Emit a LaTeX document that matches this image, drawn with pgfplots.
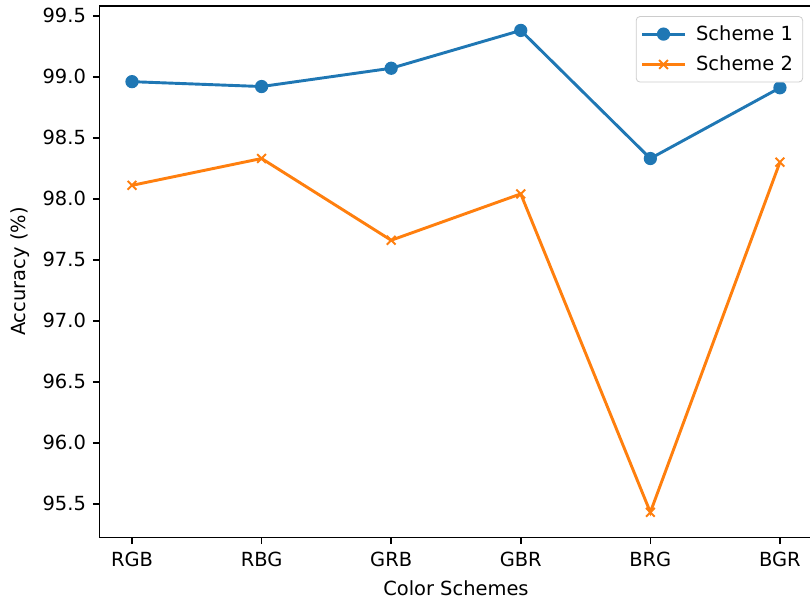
\documentclass[border=0pt]{standalone}
\usepackage{pgfplots}
\pgfplotsset{compat=1.18}
\usepackage{fontspec}
\setmainfont{DejaVu Sans}
\usetikzlibrary{calc}
\definecolor{c0}{HTML}{1F77B4}
\definecolor{c1}{HTML}{FF7F0E}
\begin{document}
\begin{tikzpicture}
\begin{axis}[
  name=ax,
  scale only axis,
  width=366.4pt, height=273.1pt,
  xmin=-0.25, xmax=5.25,
  ymin=95.225, ymax=99.58,
  xtick={0,1,2,3,4,5},
  xticklabels={RGB,RBG,GRB,GBR,BRG,BGR},
  ytick={95.5,96,96.5,97,97.5,98,98.5,99,99.5},
  yticklabel style={/pgf/number format/.cd,fixed,fixed zerofill,precision=1},
  /pgf/number format/assume math mode=true,
  tick align=outside,
  tick pos=left,
  major tick length=3.5pt,
  every tick/.style={line width=0.8pt, black},
  axis line style={line width=0.8pt},
  tick label style={font=\fontsize{10}{12}\selectfont},
  xticklabel style={yshift=-0.5pt},
  xlabel={Color Schemes},
  ylabel={Accuracy (\%)},
  label style={font=\fontsize{10}{12}\selectfont},
  xlabel style={at={(axis description cs:0.5,-0.095)}, anchor=center},
  ylabel style={at={(axis description cs:-0.112,0.5)}, anchor=center, rotate=0},
  legend style={at={(0.987,0.981)}, anchor=north east, draw=black!20, rounded corners=2pt,
    font=\fontsize{10}{12}\selectfont, inner xsep=2.5pt, inner ysep=3.5pt, row sep=4.5pt,
    nodes={inner xsep=2.5pt, inner ysep=1pt}},
  legend cell align=left,
  legend image code/.code={\draw[mark repeat=2,mark phase=2] plot coordinates {(0cm,0cm) (0.38cm,0cm) (0.76cm,0cm)}; \path (0.76cm+2.7pt,0);},
]
\addplot[color=c0, line width=1.5pt, mark=*, mark size=3pt, mark options={solid, fill=c0, draw=c0, line width=0.8pt}]
  coordinates {(0,98.96) (1,98.92) (2,99.07) (3,99.38) (4,98.33) (5,98.91)};
\addlegendentry{Scheme 1}
\addplot[color=c1, line width=1.5pt, mark=x, mark size=3.2pt, mark options={solid, line width=1pt}]
  coordinates {(0,98.11) (1,98.33) (2,97.66) (3,98.04) (4,95.43) (5,98.30)};
\addlegendentry{Scheme 2}
\end{axis}
\pgfresetboundingbox
\useasboundingbox ($(ax.south west)+(-51.2pt,-34.3pt)$) rectangle ($(ax.south west)+(365.2pt,276.2pt)$);
\end{tikzpicture}
\end{document}
